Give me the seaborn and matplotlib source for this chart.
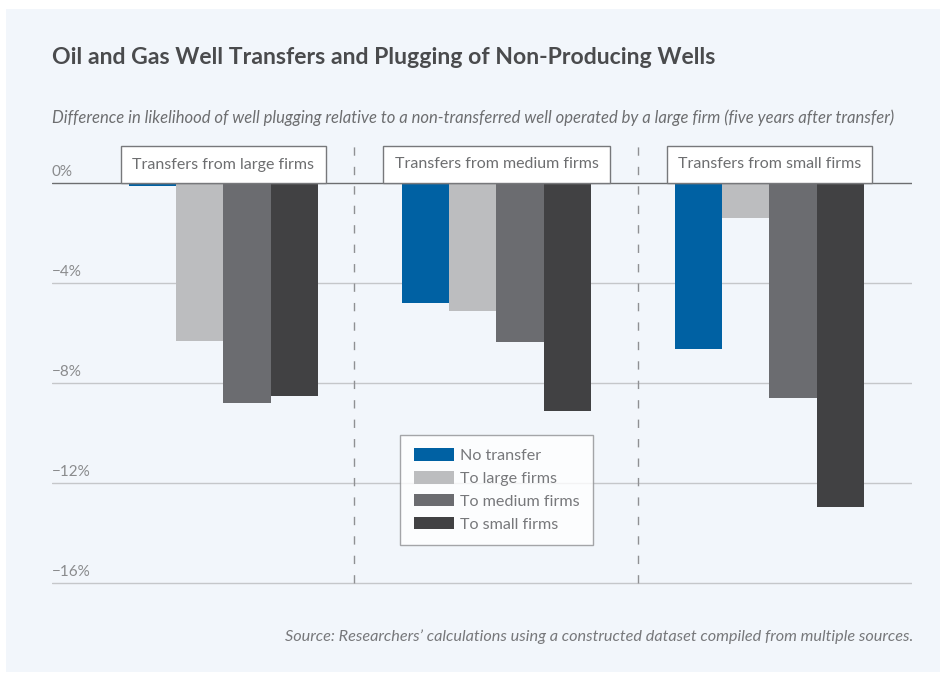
import matplotlib
matplotlib.use("Agg")
import matplotlib.pyplot as plt
from matplotlib.patches import Rectangle
import seaborn as sns
import pandas as pd

groups = ["Transfers from large firms", "Transfers from medium firms", "Transfers from small firms"]
series = ["No transfer", "To large firms", "To medium firms", "To small firms"]
no_transfer = [-0.12, -4.8, -6.65]
to_large = [-6.3, -5.1, -1.4]
to_medium = [-8.8, -6.35, -8.6]
to_small = [-8.5, -9.1, -12.95]
yticks = [0, -4, -8, -12, -16]
ytick_labels = ["0%", "\u22124%", "\u22128%", "\u221212%", "\u221216%"]
colors = ["#0061a3", "#bcbdbf", "#6b6c70", "#414143"]

rows = []
for vals, s in zip([no_transfer, to_large, to_medium, to_small], series):
    for g, v in zip(groups, vals):
        rows.append({"group": g, "series": s, "value": v})
df = pd.DataFrame(rows)

sns.set_style("white")
plt.rcParams["font.family"] = ["Lato", "DejaVu Sans"]

W, H = 948, 681
fig = plt.figure(figsize=(W / 100, H / 100), dpi=100, facecolor="white")
fig.patches.append(Rectangle((6 / W, 9 / H), (940 - 6) / W, (672 - 9) / H,
                             transform=fig.transFigure, facecolor="#f2f6fb",
                             edgecolor="none", zorder=-10))

ylo, yhi = -16.2, 1.6
px0 = 183
bottom_px = px0 + (-ylo) * 25
top_px = px0 - yhi * 25
ax = fig.add_axes([52 / W, (H - bottom_px) / H, 860 / W, (bottom_px - top_px) / H])
ax.set_zorder(1)
ax.patch.set_visible(False)

sns.barplot(data=df, x="group", y="value", hue="series", hue_order=series,
            order=groups, palette=colors, width=0.69, saturation=1,
            linewidth=0, edgecolor="none", ax=ax, legend=True, zorder=3)

ax.set_xlim(-0.628, 2.522)
ax.set_ylim(ylo, yhi)
for s in ax.spines.values():
    s.set_visible(False)
ax.set_xticks([])
ax.set_yticks([])
ax.set_xlabel("")
ax.set_ylabel("")

for t, lab in zip(yticks, ytick_labels):
    if t == 0:
        ax.axhline(t, color="#6d6e70", lw=1.0, zorder=4)
    else:
        ax.axhline(t, color="#c5c7ca", lw=1.0, zorder=1)
    ax.text(0.0, t + 0.17, lab, transform=ax.get_yaxis_transform(),
            ha="left", va="bottom", fontsize=11, color="#8a8b8d")

for xs in [0.478, 1.518]:
    ax.plot([xs, xs], [-16, 1.5], color="#8f9093", lw=1.0,
            linestyle=(0, (6, 8)), zorder=2)

for i, g in enumerate(groups):
    ax.text(i, 0.74, g, ha="center", va="center", fontsize=11.5, color="#6d6e70",
            zorder=5,
            bbox=dict(boxstyle="square,pad=0.7", facecolor="white",
                      edgecolor="#77787b", lw=1.0))

leg = ax.legend(loc="center", bbox_to_anchor=(1.0, -12.28), bbox_transform=ax.transData,
                frameon=True, fancybox=False, edgecolor="#8f9093",
                fontsize=11.6, handlelength=2.5, handleheight=0.8,
                labelspacing=0.5, handletextpad=0.35, borderpad=0.85,
                title=None)
leg.get_frame().set_linewidth(1.0)
leg.get_frame().set_facecolor("white")
for t in leg.get_texts():
    t.set_color("#77787b")

fig.text(52 / W, 1 - 57 / H, "Oil and Gas Well Transfers and Plugging of Non-Producing Wells",
         ha="left", va="center", fontsize=16.6, fontweight="bold", color="#4a4b4d")
fig.text(52 / W, 1 - 118 / H,
         "Difference in likelihood of well plugging relative to a non-transferred well operated by a large firm (five years after transfer)",
         ha="left", va="center", fontsize=11.99, style="italic", color="#6d6e70")
fig.text(913 / W, 1 - 637 / H,
         "Source: Researchers\u2019 calculations using a constructed dataset compiled from multiple sources.",
         ha="right", va="center", fontsize=11.7, style="italic", color="#77787b")

fig.savefig("out.png", dpi=100, facecolor="white")
